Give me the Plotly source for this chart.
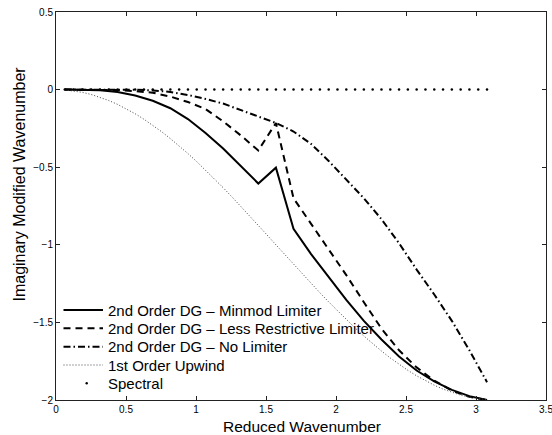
import plotly.graph_objects as go

# Reduced wavenumber samples (k*pi/50)
x_all = [0.0628, 0.1257, 0.1885, 0.2513, 0.3142, 0.3770, 0.4398, 0.5027, 0.5655, 0.6283,
         0.6912, 0.7540, 0.8168, 0.8796, 0.9425, 1.0053, 1.0681, 1.1310, 1.1938, 1.2566,
         1.3195, 1.3823, 1.4451, 1.5080, 1.5708, 1.6336, 1.6965, 1.7593, 1.8221, 1.8850,
         1.9478, 2.0106, 2.0735, 2.1363, 2.1991, 2.2619, 2.3248, 2.3876, 2.4504, 2.5133,
         2.5761, 2.6389, 2.7018, 2.7646, 2.8274, 2.8903, 2.9531, 3.0159, 3.0788]

# DG curves are sampled every other point
x_dg = [0.0628, 0.1885, 0.3142, 0.4398, 0.5655, 0.6912, 0.8168, 0.9425, 1.0681, 1.1938,
        1.3195, 1.4451, 1.5708, 1.6965, 1.8221, 1.9478, 2.0735, 2.1991, 2.3248, 2.4504,
        2.5761, 2.7018, 2.8274, 2.9531, 3.0788]

y_minmod = [0.0, 0.0, -0.004, -0.015, -0.038, -0.072, -0.12, -0.19, -0.28, -0.38,
            -0.49, -0.605, -0.503, -0.897, -1.06, -1.205, -1.355, -1.49, -1.61, -1.72,
            -1.81, -1.88, -1.935, -1.975, -2.0]

y_less = [0.0, 0.0, 0.0, -0.003, -0.01, -0.02, -0.045, -0.08, -0.125, -0.205,
          -0.295, -0.392, -0.215, -0.70, -0.865, -1.03, -1.195, -1.37, -1.54, -1.68,
          -1.79, -1.875, -1.94, -1.98, -2.0]

y_nolim = [0.0, 0.0, 0.0, 0.0, -0.001, -0.005, -0.015, -0.035, -0.06, -0.09,
           -0.13, -0.17, -0.215, -0.27, -0.35, -0.46, -0.58, -0.70, -0.835, -0.99,
           -1.16, -1.32, -1.49, -1.68, -1.885]

y_upwind = [-0.0020, -0.0079, -0.0177, -0.0314, -0.0489, -0.0702, -0.0952, -0.1237, -0.1557, -0.1910,
            -0.2295, -0.2710, -0.3155, -0.3626, -0.4122, -0.4642, -0.5182, -0.5742, -0.6319, -0.6910,
            -0.7513, -0.8126, -0.8747, -0.9372, -1.0000, -1.0628, -1.1253, -1.1874, -1.2487, -1.3090,
            -1.3681, -1.4258, -1.4818, -1.5358, -1.5878, -1.6374, -1.6845, -1.7290, -1.7705, -1.8090,
            -1.8443, -1.8763, -1.9048, -1.9298, -1.9511, -1.9686, -1.9823, -1.9921, -1.9980]

y_spectral = [0.0, 0.0, 0.0, 0.0, 0.0, 0.0, 0.0, 0.0, 0.0, 0.0,
              0.0, 0.0, 0.0, 0.0, 0.0, 0.0, 0.0, 0.0, 0.0, 0.0,
              0.0, 0.0, 0.0, 0.0, 0.0, 0.0, 0.0, 0.0, 0.0, 0.0,
              0.0, 0.0, 0.0, 0.0, 0.0, 0.0, 0.0, 0.0, 0.0, 0.0,
              0.0, 0.0, 0.0, 0.0, 0.0, 0.0, 0.0, 0.0, 0.0]

names = ["2nd Order DG \u2013 Minmod Limiter",
         "2nd Order DG \u2013 Less Restrictive Limiter",
         "2nd Order DG \u2013 No Limiter",
         "1st Order Upwind",
         "Spectral"]

x_ticks = [0, 0.5, 1, 1.5, 2, 2.5, 3, 3.5]
y_ticks = [-2, -1.5, -1, -0.5, 0, 0.5]

x_title = "Reduced Wavenumber"
y_title = "Imaginary Modified Wavenumber"

FONT = "Liberation Sans, Arial, Helvetica, sans-serif"

# line styles per series
styles = [
    dict(color="black", width=2),
    dict(color="black", width=2, dash="7px,5px"),
    dict(color="black", width=2, dash="7px,3px,1.5px,3px"),
    dict(color="#444", width=1, dash="1px,2px"),
]

fig = go.Figure()
fig.add_trace(go.Scatter(x=x_dg, y=y_minmod, mode="lines", name=names[0], line=styles[0], showlegend=False))
fig.add_trace(go.Scatter(x=x_dg, y=y_less, mode="lines", name=names[1], line=styles[1], showlegend=False))
fig.add_trace(go.Scatter(x=x_dg, y=y_nolim, mode="lines", name=names[2], line=styles[2], showlegend=False))
fig.add_trace(go.Scatter(x=x_all, y=y_upwind, mode="lines", name=names[3], line=styles[3], showlegend=False))
fig.add_trace(go.Scatter(x=x_all, y=y_spectral, mode="markers", name=names[4],
                         marker=dict(color="black", size=2.5, symbol="circle"), showlegend=False))

axis_common = dict(showline=True, linecolor="#222", linewidth=1, mirror="ticks",
                   ticks="inside", ticklen=4, tickcolor="#222", showgrid=False,
                   zeroline=False, automargin=False, ticklabeloverflow="allow",
                   tickfont=dict(size=10, color="black", family=FONT))

fig.update_xaxes(range=[0, 3.5], tickvals=x_ticks, **axis_common)
fig.update_yaxes(range=[-2, 0.5], tickvals=y_ticks, **axis_common)

# --- manual legend (MATLAB-style, no box) ---
L, R, T, B = 56, 6, 12, 35
W, H = 552, 435
pw, ph = W - L - R, H - T - B


def px_x(px):
    return (px - L) / pw


def px_y(py):
    return (H - B - py) / ph


row_y = [310, 328.3, 346.7, 365, 383.3]
shapes = []
annotations = []
for i in range(4):
    shapes.append(dict(type="line", xref="paper", yref="paper",
                       x0=px_x(63.5), x1=px_x(103), y0=px_y(row_y[i]), y1=px_y(row_y[i]),
                       line=styles[i]))
# spectral marker sample
cx, cy = 86.7, row_y[4]
shapes.append(dict(type="circle", xref="paper", yref="paper",
                   x0=px_x(cx - 1.2), x1=px_x(cx + 1.2), y0=px_y(cy + 1.2), y1=px_y(cy - 1.2),
                   fillcolor="black", line=dict(width=0)))
for i in range(5):
    annotations.append(dict(text=names[i], xref="paper", yref="paper",
                            x=px_x(105.5), y=px_y(row_y[i]), xanchor="left", yanchor="middle",
                            showarrow=False, font=dict(size=15, family=FONT, color="black")))

# axis titles
annotations.append(dict(text=x_title, xref="paper", yref="paper", x=px_x(302), y=px_y(426),
                        xanchor="center", yanchor="middle", showarrow=False,
                        font=dict(size=15.5, family=FONT, color="black")))
annotations.append(dict(text=y_title, xref="paper", yref="paper", x=px_x(18.5), y=px_y(184),
                        xanchor="center", yanchor="middle", textangle=-90, showarrow=False,
                        font=dict(size=16, family=FONT, color="black")))

fig.update_layout(
    width=W, height=H,
    margin=dict(l=L, r=R, t=T, b=B),
    paper_bgcolor="white", plot_bgcolor="white",
    font=dict(family=FONT, color="black"),
    showlegend=False,
    shapes=shapes,
    annotations=annotations,
)

fig.write_html("out.html", config={"displayModeBar": False},
               post_script="document.body.style.margin='0px';")
